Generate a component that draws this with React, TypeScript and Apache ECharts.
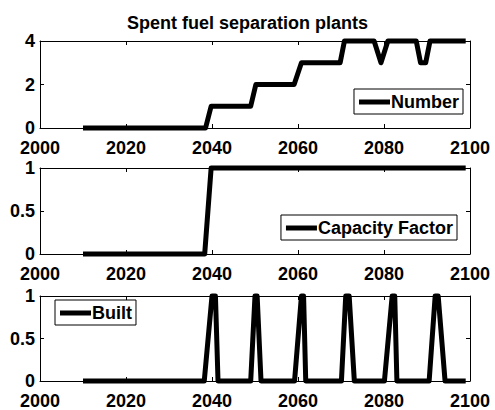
import React, { useEffect, useRef } from "react";
import * as echarts from "echarts";

const xTicks = [2000, 2020, 2040, 2060, 2080, 2100];
const numberTicks = [0, 2, 4];
const fractionTicks = [0, 0.5, 1];

const titleText = "Spent fuel separation plants";
const seriesNames = ["Number", "Capacity Factor", "Built"];

// [year, value] breakpoints
const numberData = [
  [2010, 0], [2038.5, 0], [2039.8, 1], [2049, 1], [2050.2, 2], [2059.1, 2],
  [2060.8, 3], [2069.8, 3], [2070.8, 4], [2077.7, 4], [2079.3, 3], [2080.9, 4],
  [2087.5, 4], [2088.5, 3], [2089.7, 3], [2090.7, 4], [2099, 4],
];
const capacityData = [[2010, 0], [2038.3, 0], [2039.8, 1], [2099, 1]];
const builtData = [
  [2010, 0], [2038.2, 0], [2040, 1], [2040.8, 1], [2041.4, 0],
  [2049, 0], [2050, 1], [2050.5, 1], [2051.4, 0],
  [2059.2, 0], [2060.8, 1], [2061.3, 1], [2061.8, 0],
  [2070.1, 0], [2071.1, 1], [2071.9, 1], [2073.1, 0],
  [2080.1, 0], [2081.9, 1], [2082.5, 1], [2083, 0],
  [2090.5, 0], [2091.9, 1], [2092.6, 1], [2094.2, 0], [2099, 0],
];

const FONT = "Liberation Sans";
const BLACK = "#000";

function xAxes(gridIndex: number) {
  const base = {
    type: "value",
    gridIndex,
    min: xTicks[0],
    max: xTicks[xTicks.length - 1],
    interval: xTicks[1] - xTicks[0],
    splitLine: { show: false },
    axisLine: { show: true, onZero: false, lineStyle: { color: BLACK, width: 1 } },
    axisTick: { show: true, inside: true, length: 4, lineStyle: { color: BLACK } },
  };
  return [
    {
      ...base,
      position: "bottom",
      axisLabel: {
        show: true,
        margin: 11,
        color: BLACK,
        fontFamily: FONT,
        fontWeight: "bold",
        fontSize: 18,
        formatter: (v: number) => String(v),
      },
    },
    { ...base, position: "top", axisLabel: { show: false } },
  ];
}

function yAxes(gridIndex: number, ticks: number[]) {
  const base = {
    type: "value",
    gridIndex,
    min: ticks[0],
    max: ticks[ticks.length - 1],
    interval: ticks[1] - ticks[0],
    splitLine: { show: false },
    axisLine: { show: true, onZero: false, lineStyle: { color: BLACK, width: 1 } },
    axisTick: { show: true, inside: true, length: 4, lineStyle: { color: BLACK } },
  };
  return [
    {
      ...base,
      position: "left",
      axisLabel: {
        show: true,
        margin: 5,
        color: BLACK,
        fontFamily: FONT,
        fontWeight: "bold",
        fontSize: 18,
        formatter: (v: number) => String(v),
      },
    },
    { ...base, position: "right", axisLabel: { show: false } },
  ];
}

function lineSeries(name: string, data: number[][], gridIndex: number) {
  return {
    type: "line",
    name,
    data,
    xAxisIndex: gridIndex * 2,
    yAxisIndex: gridIndex * 2,
    symbol: "none",
    clip: false,
    lineStyle: { color: BLACK, width: 5, join: "round" },
    itemStyle: { color: BLACK },
    z: 3,
  };
}

function legend(name: string, pos: Record<string, number>) {
  return {
    data: [name],
    ...pos,
    orient: "horizontal",
    icon: "rect",
    itemWidth: 31,
    itemHeight: 5,
    itemGap: 0,
    padding: [4, 4, 3, 5],
    borderColor: BLACK,
    borderWidth: 1,
    borderRadius: 0,
    backgroundColor: "#fff",
    selectedMode: false,
    z: 10,
    textStyle: {
      color: BLACK,
      fontFamily: FONT,
      fontWeight: "bold",
      fontSize: 18,
      padding: [0, 0, 0, -4],
    },
  };
}

export default function App() {
  const ref = useRef<HTMLDivElement>(null);

  useEffect(() => {
    document.body.style.margin = "0";
    if (!ref.current) return;
    const chart = echarts.init(ref.current, undefined, { renderer: "svg" });
    const grids = [
      { left: 40, top: 41, width: 430, height: 87 },
      { left: 40, top: 168, width: 430, height: 86 },
      { left: 40, top: 296, width: 430, height: 87 },
    ];
    chart.setOption({
      animation: false,
      backgroundColor: "#fff",
      title: {
        text: titleText,
        left: "center",
        top: 9,
        textStyle: {
          color: BLACK,
          fontFamily: FONT,
          fontWeight: "bold",
          fontSize: 18,
        },
      },
      grid: grids.map((g) => ({ ...g, show: false })),
      xAxis: [...xAxes(0), ...xAxes(1), ...xAxes(2)],
      yAxis: [...yAxes(0, numberTicks), ...yAxes(1, fractionTicks), ...yAxes(2, fractionTicks)],
      legend: [
        legend(seriesNames[0], { right: 32, top: 89 }),
        legend(seriesNames[1], { right: 38, top: 215 }),
        legend(seriesNames[2], { left: 55, top: 300 }),
      ],
      series: [
        lineSeries(seriesNames[0], numberData, 0),
        lineSeries(seriesNames[1], capacityData, 1),
        lineSeries(seriesNames[2], builtData, 2),
      ],
    });
    return () => chart.dispose();
  }, []);

  return <div ref={ref} style={{ width: 495, height: 410 }} />;
}
